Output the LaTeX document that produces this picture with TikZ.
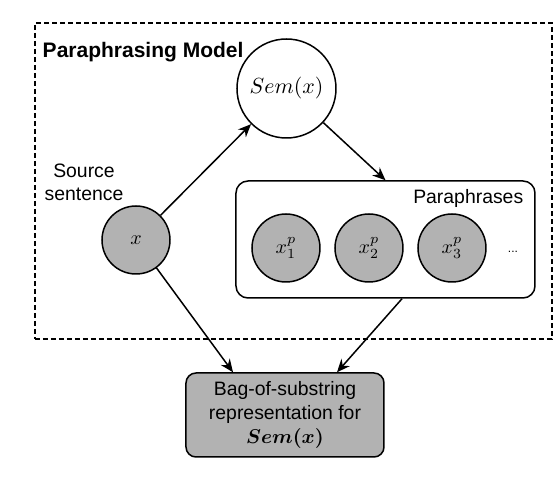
\documentclass[tikz,border=0pt]{standalone}
\usepackage{fontspec}
\setsansfont{Liberation Sans}
\usetikzlibrary{positioning,arrows.meta}
\tikzset{
model/.style={
    >={Stealth[length=6.5pt,width=5.5pt]},
    line width=0.75pt,
    x=0.5pt,
    y=-0.5pt,
    node distance=41.5pt
},
var/.style={
    circle,
    draw,
    minimum size=34pt,
    inner sep=0pt,
    fill=black!30,
    font=\fontsize{10}{12}\selectfont
},
sem/.style={
    circle,
    draw,
    minimum size=49.5pt,
    inner sep=0pt,
    fill=white,
    font=\fontsize{11.3}{13}\selectfont
},
group/.style={
    rectangle,
    rounded corners=6pt,
    draw,
    minimum width=149.5pt,
    minimum height=58.5pt
},
bag/.style={
    rectangle,
    rounded corners=5pt,
    draw,
    fill=black!30,
    minimum width=99pt,
    minimum height=42pt,
    align=center,
    font=\sffamily\fontsize{9.7}{12}\selectfont
},
frame/.style={
    draw,
    dash pattern=on 2.5pt off 1.5pt,
    minimum width=258.5pt,
    minimum height=158pt
},
txt/.style={
    inner sep=0pt,
    font=\sffamily\fontsize{9.7}{11.5}\selectfont
},
gen/.style={
    ->
}}

\begin{document}
\begin{tikzpicture}[model]
\useasboundingbox (0,0) rectangle (554,492);
\node[frame]    (box)   at (293.5,181)    {};
\node[txt, anchor=west, font=\sffamily\bfseries\fontsize{10.5}{12}\selectfont]    (title)    at (42,52)    {Paraphrasing Model};
\node[sem]      (sem)   at (286.5,88.5)    {$Sem(x)$};
\node[var]      (x)     at (136,240)    {$x$};
\node[txt, align=center]    (src)    at (84,182)    {Source\\sentence};
\node[group]    (para)  at (385.5,239.5)    {};
\node[txt, anchor=east]    (ptitle)    at (524,198)    {Paraphrases};
\node[var]      (xp1)   at (286,248)    {$x^p_1$};
\node[var]      (xp2)   [right of=xp1]    {$x^p_2$};
\node[var]      (xp3)   [right of=xp2]    {$x^p_3$};
\node[txt, font=\sffamily\fontsize{6}{7}\selectfont]    (dots)    at (513,252)    {...};
\node[bag]      (bag)   at (285,415)    {Bag-of-substring\\representation for\\{\boldmath$Sem(x)$}};

\coordinate (bagl)  at ([xshift=-26pt]bag.north);
\coordinate (bagr)  at ([xshift=26pt]bag.north);
\coordinate (parab) at ([xshift=8.25pt]para.south);

\draw[gen]    (x)    --    (sem);
\draw[gen]    (sem)    --    (para.north);
\draw[gen]    (x)    --    (bagl);
\draw[gen]    (parab)    --    (bagr);
\end{tikzpicture}
\end{document}
